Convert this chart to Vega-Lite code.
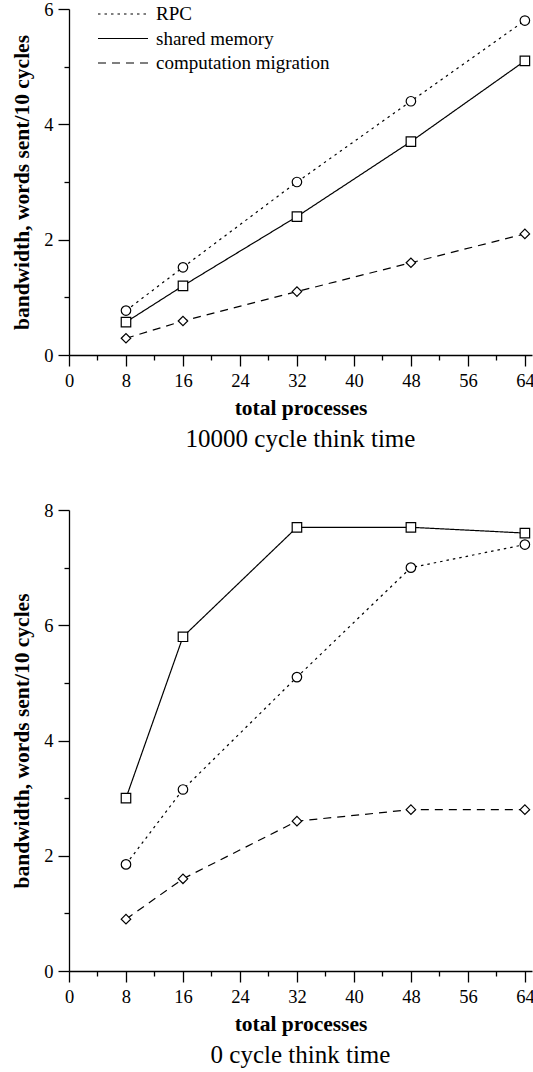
{
  "$schema": "https://vega.github.io/schema/vega-lite/v6.json",
  "background": "white",
  "padding": {"left": 11, "top": 0, "right": 0, "bottom": 0},
  "config": {
    "font": "Liberation Serif",
    "view": {"stroke": null},
    "axis": {
      "grid": false,
      "domainColor": "black",
      "domainWidth": 1.3,
      "tickColor": "black",
      "tickWidth": 1.3,
      "labelColor": "black",
      "labelFont": "Liberation Serif",
      "labelFontSize": 18.5,
      "titleColor": "black",
      "titleFont": "Liberation Serif",
      "titleFontSize": 21.5,
      "titleFontWeight": "bold",
      "labelFlush": false,
      "labelOverlap": false
    },
    "concat": {"spacing": 49}
  },
  "datasets": {
    "d": [
      {"panel": "top", "series": "RPC", "processes": 8, "bandwidth": 0.77},
      {"panel": "top", "series": "RPC", "processes": 16, "bandwidth": 1.52},
      {"panel": "top", "series": "RPC", "processes": 32, "bandwidth": 3.0},
      {"panel": "top", "series": "RPC", "processes": 48, "bandwidth": 4.4},
      {"panel": "top", "series": "RPC", "processes": 64, "bandwidth": 5.8},
      {"panel": "top", "series": "shared memory", "processes": 8, "bandwidth": 0.57},
      {"panel": "top", "series": "shared memory", "processes": 16, "bandwidth": 1.2},
      {"panel": "top", "series": "shared memory", "processes": 32, "bandwidth": 2.4},
      {"panel": "top", "series": "shared memory", "processes": 48, "bandwidth": 3.7},
      {"panel": "top", "series": "shared memory", "processes": 64, "bandwidth": 5.1},
      {"panel": "top", "series": "computation migration", "processes": 8, "bandwidth": 0.29},
      {"panel": "top", "series": "computation migration", "processes": 16, "bandwidth": 0.59},
      {"panel": "top", "series": "computation migration", "processes": 32, "bandwidth": 1.1},
      {"panel": "top", "series": "computation migration", "processes": 48, "bandwidth": 1.6},
      {"panel": "top", "series": "computation migration", "processes": 64, "bandwidth": 2.1},
      {"panel": "bottom", "series": "RPC", "processes": 8, "bandwidth": 1.85},
      {"panel": "bottom", "series": "RPC", "processes": 16, "bandwidth": 3.15},
      {"panel": "bottom", "series": "RPC", "processes": 32, "bandwidth": 5.1},
      {"panel": "bottom", "series": "RPC", "processes": 48, "bandwidth": 7.0},
      {"panel": "bottom", "series": "RPC", "processes": 64, "bandwidth": 7.4},
      {"panel": "bottom", "series": "shared memory", "processes": 8, "bandwidth": 3.0},
      {"panel": "bottom", "series": "shared memory", "processes": 16, "bandwidth": 5.8},
      {"panel": "bottom", "series": "shared memory", "processes": 32, "bandwidth": 7.7},
      {"panel": "bottom", "series": "shared memory", "processes": 48, "bandwidth": 7.7},
      {"panel": "bottom", "series": "shared memory", "processes": 64, "bandwidth": 7.6},
      {"panel": "bottom", "series": "computation migration", "processes": 8, "bandwidth": 0.9},
      {"panel": "bottom", "series": "computation migration", "processes": 16, "bandwidth": 1.6},
      {"panel": "bottom", "series": "computation migration", "processes": 32, "bandwidth": 2.6},
      {"panel": "bottom", "series": "computation migration", "processes": 48, "bandwidth": 2.8},
      {"panel": "bottom", "series": "computation migration", "processes": 64, "bandwidth": 2.8}
    ]
  },
  "vconcat": [
    {
      "width": 463,
      "height": 346,
      "data": {"name": "d"},
      "transform": [{"filter": "datum.panel === 'top'"}],
      "title": {"text": "10000 cycle think time", "orient": "bottom", "font": "Liberation Serif", "fontSize": 25, "fontWeight": "normal", "color": "black", "offset": 8},
      "layer": [
        {
          "mark": {"type": "line", "color": "black", "strokeWidth": 1.2},
          "encoding": {
            "x": {"field": "processes", "type": "quantitative", "scale": {"domain": [0, 65], "nice": false, "zero": false},
                  "axis": {"values": [0, 8, 16, 24, 32, 40, 48, 56, 64], "tickSize": 11, "labelPadding": 5, "title": "total processes", "titlePadding": 8, "orient": "bottom"}},
            "y": {"field": "bandwidth", "type": "quantitative", "scale": {"domain": [0, 6], "nice": false},
                  "axis": {"values": [0, 2, 4, 6], "tickSize": 11, "labelPadding": 5, "title": "bandwidth, words sent/10 cycles", "titlePadding": 10, "orient": "left"}},
            "strokeDash": {"field": "series", "type": "nominal", "sort": ["RPC", "shared memory", "computation migration"],
                           "scale": {"range": [[2.5, 4], [1, 0], [8, 6]]},
                           "legend": {
                             "orient": "none", "legendX": 28, "legendY": -4.5, "title": null,
                             "labelFont": "Liberation Serif", "labelFontSize": 19, "labelColor": "black", "labelOffset": 7, "labelLimit": 0,
                             "symbolType": "stroke", "symbolSize": 2500, "rowPadding": 4.5, "padding": 0, "clipHeight": 19,
                             "symbolStrokeColor": "black", "symbolStrokeWidth": 1.2, "symbolOpacity": 1
                           }}
          }
        },
        {
          "transform": [{"filter": "datum.series === 'RPC'"}],
          "mark": {"type": "point", "shape": "circle", "filled": true, "fill": "white", "stroke": "black", "strokeWidth": 1.2, "size": 90, "opacity": 1},
          "encoding": {
            "x": {"field": "processes", "type": "quantitative",
                  "axis": {"values": [4, 12, 20, 28, 36, 44, 52, 60], "tickSize": 5, "labels": false, "domain": false, "title": null, "orient": "bottom"}},
            "y": {"field": "bandwidth", "type": "quantitative",
                  "axis": {"values": [1, 3, 5], "tickSize": 5, "labels": false, "domain": false, "title": null, "orient": "left"}}
          }
        },
        {
          "transform": [{"filter": "datum.series === 'shared memory'"}],
          "mark": {"type": "point", "shape": "square", "filled": true, "fill": "white", "stroke": "black", "strokeWidth": 1.2, "size": 90, "opacity": 1},
          "encoding": {
            "x": {"field": "processes", "type": "quantitative", "axis": null},
            "y": {"field": "bandwidth", "type": "quantitative", "axis": null}
          }
        },
        {
          "transform": [{"filter": "datum.series === 'computation migration'"}],
          "mark": {"type": "point", "shape": "diamond", "filled": true, "fill": "white", "stroke": "black", "strokeWidth": 1.2, "size": 90, "opacity": 1},
          "encoding": {
            "x": {"field": "processes", "type": "quantitative", "axis": null},
            "y": {"field": "bandwidth", "type": "quantitative", "axis": null}
          }
        }
      ],
      "resolve": {"axis": {"x": "independent", "y": "independent"}}
    },
    {
      "width": 463,
      "height": 461,
      "data": {"name": "d"},
      "transform": [{"filter": "datum.panel === 'bottom'"}],
      "title": {"text": "0 cycle think time", "orient": "bottom", "font": "Liberation Serif", "fontSize": 25, "fontWeight": "normal", "color": "black", "offset": 8},
      "layer": [
        {
          "mark": {"type": "line", "color": "black", "strokeWidth": 1.2},
          "encoding": {
            "x": {"field": "processes", "type": "quantitative", "scale": {"domain": [0, 65], "nice": false, "zero": false},
                  "axis": {"values": [0, 8, 16, 24, 32, 40, 48, 56, 64], "tickSize": 11, "labelPadding": 5, "title": "total processes", "titlePadding": 8, "orient": "bottom"}},
            "y": {"field": "bandwidth", "type": "quantitative", "scale": {"domain": [0, 8], "nice": false},
                  "axis": {"values": [0, 2, 4, 6, 8], "tickSize": 11, "labelPadding": 5, "title": "bandwidth, words sent/10 cycles", "titlePadding": 10, "orient": "left"}},
            "strokeDash": {"field": "series", "type": "nominal", "sort": ["RPC", "shared memory", "computation migration"],
                           "scale": {"range": [[2.5, 4], [1, 0], [8, 6]]},
                           "legend": null}
          }
        },
        {
          "transform": [{"filter": "datum.series === 'RPC'"}],
          "mark": {"type": "point", "shape": "circle", "filled": true, "fill": "white", "stroke": "black", "strokeWidth": 1.2, "size": 90, "opacity": 1},
          "encoding": {
            "x": {"field": "processes", "type": "quantitative",
                  "axis": {"values": [4, 12, 20, 28, 36, 44, 52, 60], "tickSize": 5, "labels": false, "domain": false, "title": null, "orient": "bottom"}},
            "y": {"field": "bandwidth", "type": "quantitative",
                  "axis": {"values": [1, 3, 5, 7], "tickSize": 5, "labels": false, "domain": false, "title": null, "orient": "left"}}
          }
        },
        {
          "transform": [{"filter": "datum.series === 'shared memory'"}],
          "mark": {"type": "point", "shape": "square", "filled": true, "fill": "white", "stroke": "black", "strokeWidth": 1.2, "size": 90, "opacity": 1},
          "encoding": {
            "x": {"field": "processes", "type": "quantitative", "axis": null},
            "y": {"field": "bandwidth", "type": "quantitative", "axis": null}
          }
        },
        {
          "transform": [{"filter": "datum.series === 'computation migration'"}],
          "mark": {"type": "point", "shape": "diamond", "filled": true, "fill": "white", "stroke": "black", "strokeWidth": 1.2, "size": 90, "opacity": 1},
          "encoding": {
            "x": {"field": "processes", "type": "quantitative", "axis": null},
            "y": {"field": "bandwidth", "type": "quantitative", "axis": null}
          }
        }
      ],
      "resolve": {"axis": {"x": "independent", "y": "independent"}}
    }
  ],
  "resolve": {"scale": {"strokeDash": "independent"}, "legend": {"strokeDash": "independent"}}
}
